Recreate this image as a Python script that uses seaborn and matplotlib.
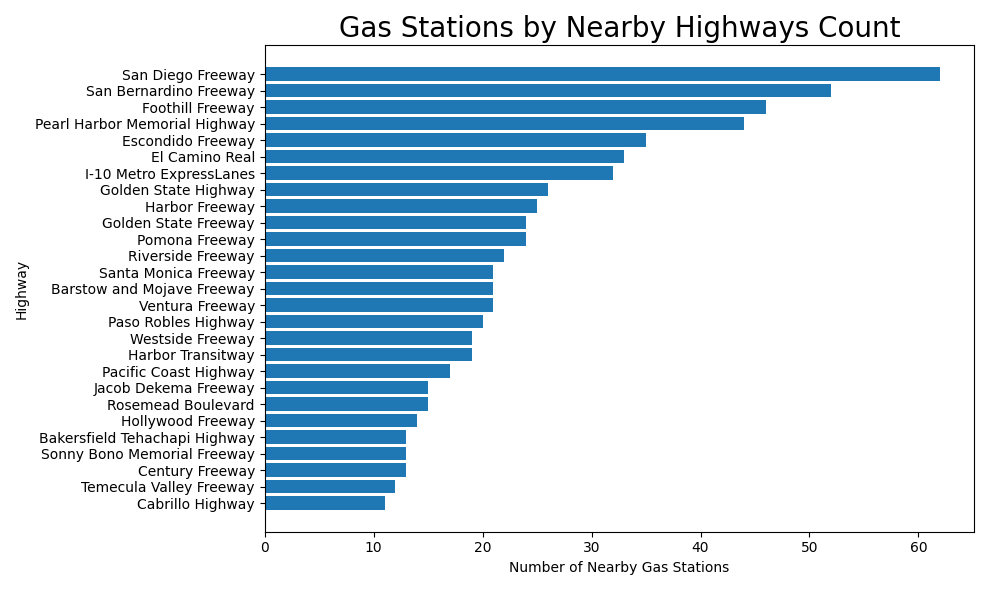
import matplotlib
matplotlib.use("Agg")
import matplotlib.pyplot as plt
import seaborn as sns
import pandas as pd

highways = ["San Diego Freeway", "San Bernardino Freeway", "Foothill Freeway",
            "Pearl Harbor Memorial Highway", "Escondido Freeway", "El Camino Real",
            "I-10 Metro ExpressLanes", "Golden State Highway", "Harbor Freeway",
            "Golden State Freeway", "Pomona Freeway", "Riverside Freeway",
            "Santa Monica Freeway", "Barstow and Mojave Freeway", "Ventura Freeway",
            "Paso Robles Highway", "Westside Freeway", "Harbor Transitway",
            "Pacific Coast Highway", "Jacob Dekema Freeway", "Rosemead Boulevard",
            "Hollywood Freeway", "Bakersfield Tehachapi Highway",
            "Sonny Bono Memorial Freeway", "Century Freeway",
            "Temecula Valley Freeway", "Cabrillo Highway"]
counts = [62, 52, 46, 44, 35, 33, 32, 26, 25, 24, 24, 22, 21, 21, 21, 20, 19, 19,
          17, 15, 15, 14, 13, 13, 13, 12, 11]

df = pd.DataFrame({"Highway": highways, "Count": counts})

fig, ax = plt.subplots(figsize=(9.89, 5.9), dpi=100)
sns.barplot(data=df, x="Count", y="Highway", orient="h", color="#1f77b4",
            saturation=1, width=0.8, ax=ax)
n = len(highways)
m = 0.05 * (n - 0.2)
ax.set_ylim(n - 0.6 + m, -0.4 - m)
ax.set_xlim(0, max(counts) * 1.05)
ax.set_title("Gas Stations by Nearby Highways Count", fontsize=20)
ax.set_xlabel("Number of Nearby Gas Stations")
ax.set_ylabel("Highway")
plt.tight_layout()
plt.savefig("out.png", dpi=100)
